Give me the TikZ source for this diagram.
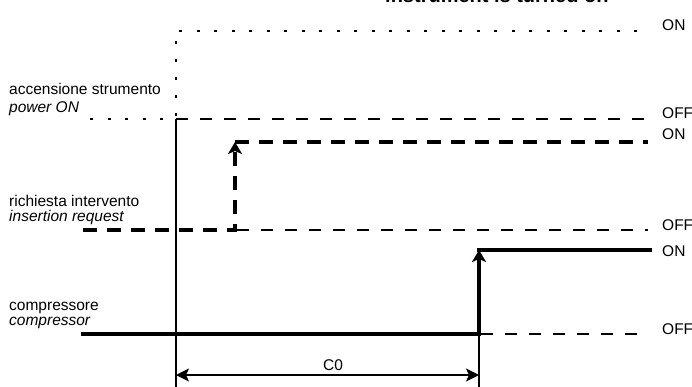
\documentclass[tikz,border=0pt]{standalone}
\usepackage{fontspec}
\setmainfont{Liberation Sans}
\usetikzlibrary{arrows.meta}

\tikzset{
    lvl/.style={font=\fontsize{15.5}{18}\selectfont, anchor=west, inner sep=0pt},
    sig/.style={font=\fontsize{15.5}{18}\selectfont, anchor=base west, inner sep=0pt},
    dotline/.style={line width=1.5pt, dash pattern=on 3pt off 14.5pt},
    offline/.style={line width=1.1pt, dash pattern=on 12pt off 12pt},
    reqline/.style={line width=3.3pt, dash pattern=on 14pt off 10pt},
    cmpline/.style={line width=3.6pt},
    thinline/.style={line width=1.3pt},
    uparrow/.style={-{Stealth[length=12pt, width=14pt, inset=3pt]}}
}

\begin{document}
\begin{tikzpicture}[x=1pt, y=-1pt]
    \useasboundingbox (0,0) rectangle (692,387);

    % heading, cut by the top edge
    \node[font=\fontsize{20}{24}\selectfont\bfseries, anchor=base west, inner sep=0pt] (head) at (385,2.5) {instrument is turned on};

    % ON / OFF levels
    \foreach \y/\st [count=\i] in {25/ON, 113.5/OFF, 134/ON, 225.5/OFF, 251.5/ON, 329.5/OFF}
        \node[lvl] (st\i) at (662,\y) {\st};

    % signal names
    \node[sig] (pwrIt) at (9,95) {accensione strumento};
    \node[sig] (pwrEn) at (9,112.5) {\itshape power ON};
    \node[sig] (reqIt) at (9,206) {richiesta intervento};
    \node[sig] (reqEn) at (9,221.5) {\itshape insertion request};
    \node[sig] (cmpIt) at (9,310) {compressore};
    \node[sig] (cmpEn) at (9,325.5) {\itshape compressor};

    % power ON
    \draw[dotline] (90,119) -- (176,119);
    \draw[dotline, dash pattern=on 3.5pt off 14.5pt] (176,41) -- (176,119);
    \draw[dotline] (179,31) -- (640,31);
    \draw[offline] (176,119) -- (648,119);
    \draw[thinline] (176,119) -- (176,387);

    % insertion request
    \draw[reqline, uparrow] (83,230) -- (235,230) -- (235,142);
    \draw[reqline] (235,142) -- (648,142);
    \draw[offline] (237,230) -- (648,230);

    % compressor
    \draw[cmpline, uparrow] (81,334) -- (479,334) -- (479,250);
    \draw[cmpline] (477.2,250) -- (652,250);
    \draw[offline] (481,334) -- (648,334);
    \draw[thinline] (479,334) -- (479,387);

    % delay C0
    \coordinate (c0start) at (176,375);
    \coordinate (c0end) at (479,375);
    \draw[thinline, {Stealth[length=13pt, width=13pt, inset=3pt]}-{Stealth[length=13pt, width=13pt, inset=3pt]}] (c0start) -- (c0end);
    \node[font=\fontsize{15.5}{18}\selectfont, inner sep=0pt] (c0) at (333,365) {C0};
\end{tikzpicture}
\end{document}
